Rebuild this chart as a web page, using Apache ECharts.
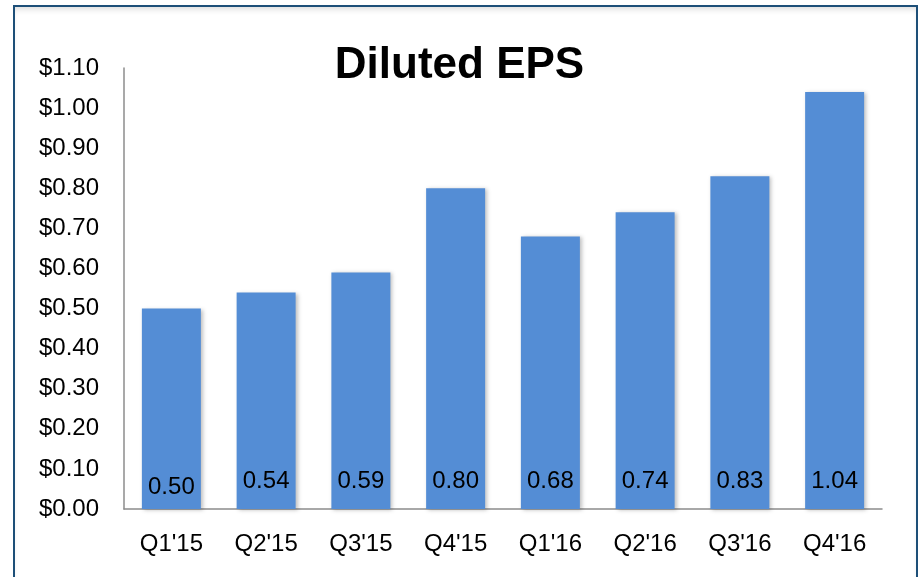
<!DOCTYPE html>
<html>
<head>
<meta charset="utf-8">
<script src="https://cdn.jsdelivr.net/npm/echarts@6/dist/echarts.min.js"></script>
<style>
    html, body {margin: 0; padding: 0; background: #fff;}
    #frame {
        position: absolute; left: 13px; top: 5px; width: 901px; height: 640px;
        border: 2px solid #1d4f78;
        box-shadow: inset 0 5px 6px -3px rgba(0, 0, 0, 0.15);
    }
    #chart {position: absolute; left: 0; top: 0; width: 919px; height: 577px;}
</style>
</head>
<body>
<div id="frame"></div>
<div id="chart"></div>
<script>
const quarters = ["Q1'15", "Q2'15", "Q3'15", "Q4'15", "Q1'16", "Q2'16", "Q3'16", "Q4'16"]
const eps = [0.50, 0.54, 0.59, 0.80, 0.68, 0.74, 0.83, 1.04]
// the first label sits a bit lower than the others in the original
const labelDistance = [10, 16, 16, 16, 16, 16, 16, 16]

const fontFamily = "Helvetica, Arial, 'Liberation Sans', sans-serif"

const myChart = echarts.init(document.getElementById('chart'))

const option = {
    animation: false,
    title: {
        text: 'Diluted EPS',
        left: 'center',
        top: 39,
        textStyle: {fontFamily, fontSize: 44, fontWeight: 'bold', color: '#000'}
    },
    grid: {left: 124, right: 37, top: 68, bottom: 68},
    xAxis: {
        type: 'category',
        data: quarters,
        axisLine: {lineStyle: {color: '#8c8c8c', width: 1.5}},
        axisTick: {show: false},
        axisLabel: {fontFamily, fontSize: 24, color: '#000', margin: 23}
    },
    yAxis: {
        type: 'value',
        min: 0,
        max: 1.1,
        interval: 0.1,
        axisLine: {show: true, lineStyle: {color: '#8c8c8c', width: 1.5}},
        axisTick: {show: false},
        splitLine: {show: false},
        axisLabel: {
            fontFamily, fontSize: 24, color: '#000', margin: 25,
            formatter: v => '$' + v.toFixed(2)
        }
    },
    series: [{
        type: 'bar',
        barWidth: 59,
        data: eps.map((v, i) => ({
            value: v,
            label: {distance: labelDistance[i]}
        })),
        itemStyle: {
            color: '#548dd5',
            shadowColor: 'rgba(0, 0, 0, 0.25)',
            shadowBlur: 4,
            shadowOffsetX: 2,
            shadowOffsetY: 1
        },
        label: {
            show: true,
            position: 'insideBottom',
            fontFamily, fontSize: 24, color: '#000',
            formatter: p => p.value.toFixed(2)
        }
    }]
}
myChart.setOption(option)
</script>
</body>
</html>
